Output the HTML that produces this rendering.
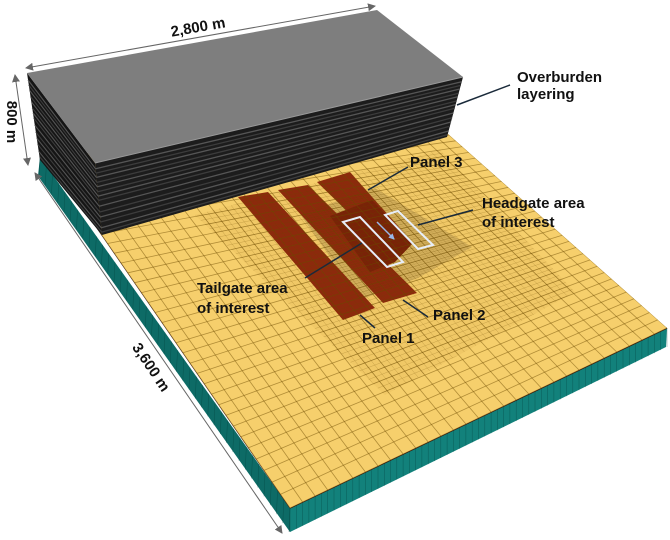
<!DOCTYPE html>
<html><head><meta charset="utf-8">
<style>
html,body{margin:0;padding:0;background:#fff;}
svg{display:block;}
text{font-family:"Liberation Sans",sans-serif;font-weight:bold;fill:#111;}
</style></head>
<body>
<svg id="s" width="670" height="540" viewBox="0 0 670 540" xmlns="http://www.w3.org/2000/svg">
<defs>
<marker id="ah" markerWidth="8" markerHeight="8" refX="7" refY="4" orient="auto" markerUnits="userSpaceOnUse">
<path d="M0,0 L8,4 L0,8 z" fill="#666"/></marker>
<marker id="ahs" markerWidth="8" markerHeight="8" refX="1" refY="4" orient="auto" markerUnits="userSpaceOnUse">
<path d="M8,0 L0,4 L8,8 z" fill="#666"/></marker>
<marker id="ab" markerWidth="6" markerHeight="6" refX="5" refY="3" orient="auto" markerUnits="userSpaceOnUse">
<path d="M0,0 L6,3 L0,6 z" fill="#9ab8e8"/></marker>
<clipPath id="slab"><polygon points="290,508 667,328 430,118 48,157"/></clipPath>
<clipPath id="fine"><polygon points="195,215 440,150 575,292 385,395"/></clipPath>
<clipPath id="vfine"><polygon points="300,214 375,188 472,247 418,278 360,300"/></clipPath>
</defs>

<polygon points="40,157 290,508 290,532 38,176" fill="#0d6b66"/>
<polygon points="290,508 667,328 666,347 290,532" fill="#12817b"/>
<g id="teal"></g>
<line x1="290" y1="508" x2="667" y2="328" stroke="#3a1a0a" stroke-width="1.5"/>
<line x1="48" y1="157" x2="290" y2="508" stroke="#3a1a0a" stroke-width="1"/>

<polygon points="290,508 667,328 430,118 48,157" fill="#f6cf6c"/>
<g clip-path="url(#slab)">
 <polygon points="195,215 440,150 575,292 385,395" fill="#f0c866"/>
 <polygon points="300,214 375,188 472,247 418,278 360,300" fill="#d2ae5a"/>
 <polygon points="238,197 268,192 375,308 343,320" fill="#8c2a0c"/>
 <polygon points="278,190 308,185 417,293 383,303" fill="#8c2a0c"/>
 <polygon points="317,182 350,172 413,243 387,250" fill="#8c2a0c"/>
 <polygon points="330,216 372,200 413,243 395,262 370,272" fill="#7a2208"/>
 <g id="g1"></g>
 <g id="g2" clip-path="url(#fine)"></g>
 <g id="g3" clip-path="url(#vfine)"></g>
</g>

<polygon points="27,73 95,163 102,235 40,160" fill="#151515"/>
<polygon points="95,163 463,77 447,137 102,235" fill="#1c1c1c"/>
<g id="strata"></g>
<polygon points="27,73 377,10 463,77 95,163" fill="#7e7e7e"/>
<line x1="95" y1="163" x2="463" y2="77" stroke="#999" stroke-width="1"/>

<polygon points="343,222 360,217 403,262 387,267" fill="none" stroke="#e8eef8" stroke-width="2"/>
<polygon points="385,215 398,211 433,245 418,249" fill="none" stroke="#e8eef8" stroke-width="2"/>
<line x1="377" y1="222" x2="394" y2="239" stroke="#9ab8e8" stroke-width="1.5" marker-end="url(#ab)"/>

<line x1="26" y1="68" x2="375" y2="6" stroke="#666" stroke-width="1" marker-start="url(#ahs)" marker-end="url(#ah)"/>
<line x1="15" y1="75" x2="28" y2="165" stroke="#666" stroke-width="1" marker-start="url(#ahs)" marker-end="url(#ah)"/>
<line x1="35" y1="173" x2="282" y2="533" stroke="#666" stroke-width="1" marker-start="url(#ahs)" marker-end="url(#ah)"/>

<g stroke="#1a2a3a" stroke-width="1.5">
<line x1="457" y1="105" x2="510" y2="85"/>
<line x1="408" y1="167" x2="368" y2="190"/>
<line x1="473" y1="210" x2="418" y2="225"/>
<line x1="362" y1="243" x2="305" y2="278"/>
<line x1="403" y1="300" x2="428" y2="317"/>
<line x1="360" y1="315" x2="375" y2="328"/>
</g>

<text x="198" y="32" font-size="15" text-anchor="middle" transform="rotate(-10 198 27)">2,800 m</text>
<text x="0" y="0" font-size="15" text-anchor="middle" transform="translate(7,122) rotate(90)">800 m</text>
<text x="0" y="0" font-size="15" text-anchor="middle" transform="translate(147,370) rotate(56)">3,600 m</text>
<text x="517" y="82" font-size="15">Overburden</text>
<text x="517" y="99" font-size="15">layering</text>
<text x="410" y="167" font-size="15">Panel 3</text>
<text x="482" y="208" font-size="15">Headgate area</text>
<text x="482" y="227" font-size="15">of interest</text>
<text x="197" y="293" font-size="15">Tailgate area</text>
<text x="197" y="313" font-size="15">of interest</text>
<text x="433" y="320" font-size="15">Panel 2</text>
<text x="362" y="343" font-size="15">Panel 1</text>
</svg>
<script>
(function(){
var NS="http://www.w3.org/2000/svg";
function L(a,b,t){return [a[0]+(b[0]-a[0])*t,a[1]+(b[1]-a[1])*t];}
function ln(g,p,q,c,w){var e=document.createElementNS(NS,"line");e.setAttribute("x1",p[0].toFixed(1));e.setAttribute("y1",p[1].toFixed(1));e.setAttribute("x2",q[0].toFixed(1));e.setAttribute("y2",q[1].toFixed(1));e.setAttribute("stroke",c);e.setAttribute("stroke-width",w);g.appendChild(e);}
var F=[290,508],R=[667,328],Lc=[48,157],B=[430,118];
function grid(id,N,M,c,w){var g=document.getElementById(id);
 for(var i=0;i<=N;i++){var t=i/N;ln(g,L(F,R,t),L(Lc,B,t),c,w);}
 for(var j=0;j<=M;j++){var t=Math.pow(j/M,0.92);ln(g,L(F,Lc,t),L(R,B,t),c,w);}
}
grid("g1",30,34,"rgba(110,75,0,0.5)",0.8);
grid("g2",60,68,"rgba(110,75,0,0.3)",0.5);
grid("g3",120,136,"rgba(100,70,0,0.2)",0.35);
var s=document.getElementById("strata");
var fr=[0.08,0.14,0.2,0.27,0.33,0.4,0.46,0.52,0.6,0.68,0.75,0.82,0.9,0.96];
var A=[95,163],Bt=[463,77],C=[447,137],D=[102,235],E=[27,73],G=[40,160];
fr.forEach(function(t,k){var col=k%2?"#3c3c3c":"#555";
 ln(s,L(A,D,t),L(Bt,C,t),col,1.3);
 ln(s,L(E,G,t),L(A,D,t),col,1.1);});
var tg=document.getElementById("teal");
for(var i=0;i<=60;i++){var t=i/60;var p=L([290,508],[667,328],t);ln(tg,p,[p[0],p[1]+24-5*t],"rgba(0,60,55,0.5)",0.5);}
for(var i=0;i<=40;i++){var t=i/40;var p=L([40,157],[290,508],t);ln(tg,p,[p[0]-1,p[1]+19+5*t],"rgba(0,60,55,0.5)",0.5);}
})();
</script>
</body></html>
